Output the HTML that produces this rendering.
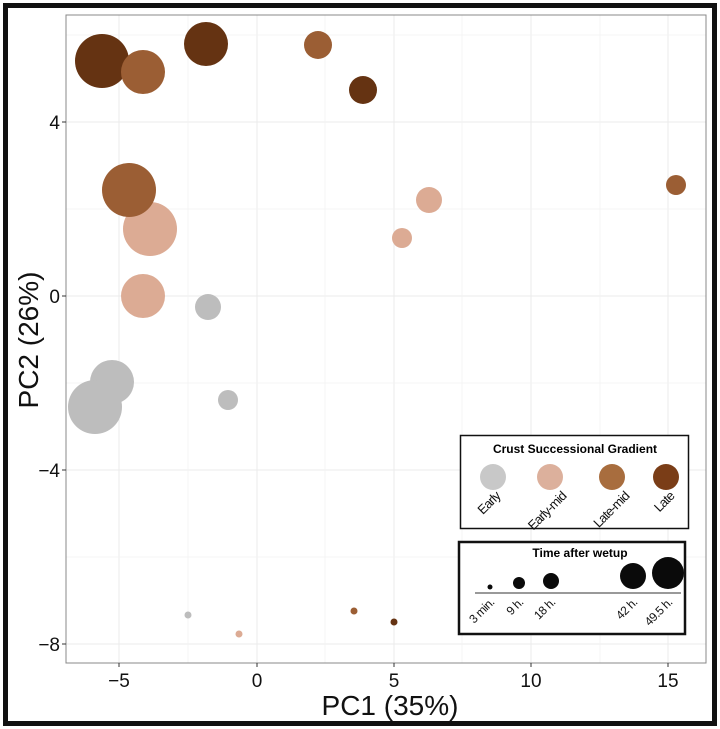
<!DOCTYPE html>
<html><head><meta charset="utf-8"><style>body{margin:0;background:#fff}svg{display:block}</style></head><body>
<svg width="720" height="729" xmlns="http://www.w3.org/2000/svg" font-family="Liberation Sans, sans-serif">
<rect x="0" y="0" width="720" height="729" fill="#fff"/>
<rect x="5.5" y="5.5" width="709" height="718" fill="none" stroke="#111" stroke-width="5"/>
<g stroke="#ebebeb" stroke-width="1">
<line x1="119" y1="15" x2="119" y2="663"/><line x1="257" y1="15" x2="257" y2="663"/><line x1="394" y1="15" x2="394" y2="663"/><line x1="531" y1="15" x2="531" y2="663"/><line x1="668" y1="15" x2="668" y2="663"/>
<line x1="66" y1="122" x2="706" y2="122"/><line x1="66" y1="296" x2="706" y2="296"/><line x1="66" y1="470" x2="706" y2="470"/><line x1="66" y1="644" x2="706" y2="644"/>
</g>
<g stroke="#f4f4f4" stroke-width="1">
<line x1="188" y1="15" x2="188" y2="663"/><line x1="325" y1="15" x2="325" y2="663"/><line x1="462" y1="15" x2="462" y2="663"/><line x1="600" y1="15" x2="600" y2="663"/>
<line x1="66" y1="35" x2="706" y2="35"/><line x1="66" y1="209" x2="706" y2="209"/><line x1="66" y1="383" x2="706" y2="383"/><line x1="66" y1="557" x2="706" y2="557"/>
</g>
<rect x="66" y="15" width="640" height="648" fill="none" stroke="#888" stroke-width="1"/>
<g>
<circle cx="102" cy="61" r="27" fill="#653312"/>
<circle cx="143" cy="72" r="22" fill="#9b5e34"/>
<circle cx="206" cy="44" r="22" fill="#653312"/>
<circle cx="318" cy="45" r="14" fill="#9b5e34"/>
<circle cx="363" cy="90" r="14" fill="#653312"/>
<circle cx="676" cy="185" r="10" fill="#9b5e34"/>
<circle cx="150" cy="229" r="27" fill="#dcab94"/>
<circle cx="129" cy="190" r="27" fill="#9b5e34"/>
<circle cx="429" cy="200" r="13" fill="#dcab94"/>
<circle cx="402" cy="238" r="10" fill="#dcab94"/>
<circle cx="143" cy="296" r="22" fill="#dcab94"/>
<circle cx="208" cy="307" r="13" fill="#bdbdbd"/>
<circle cx="112" cy="382" r="22" fill="#bdbdbd"/>
<circle cx="95" cy="407" r="27" fill="#bdbdbd"/>
<circle cx="228" cy="400" r="10" fill="#bdbdbd"/>
<circle cx="188" cy="615" r="3.5" fill="#bdbdbd"/>
<circle cx="239" cy="634" r="3.5" fill="#dcab94"/>
<circle cx="354" cy="611" r="3.5" fill="#9b5e34"/>
<circle cx="394" cy="622" r="3.5" fill="#653312"/>
</g>
<g stroke="#333" stroke-width="1">
<line x1="119" y1="663" x2="119" y2="667"/><line x1="257" y1="663" x2="257" y2="667"/><line x1="394" y1="663" x2="394" y2="667"/><line x1="531" y1="663" x2="531" y2="667"/><line x1="668" y1="663" x2="668" y2="667"/>
<line x1="62" y1="122" x2="66" y2="122"/><line x1="62" y1="296" x2="66" y2="296"/><line x1="62" y1="470" x2="66" y2="470"/><line x1="62" y1="644" x2="66" y2="644"/>
</g>
<g font-size="19" fill="#111" text-anchor="middle">
<text x="119" y="687">−5</text><text x="257" y="687">0</text><text x="394" y="687">5</text><text x="531" y="687">10</text><text x="668" y="687">15</text>
</g>
<g font-size="19" fill="#111" text-anchor="end">
<text x="60" y="129">4</text><text x="60" y="303">0</text><text x="60" y="477">−4</text><text x="60" y="651">−8</text>
</g>
<text x="390" y="715" font-size="28" text-anchor="middle" fill="#111">PC1 (35%)</text>
<text transform="translate(38,340) rotate(-90)" font-size="28" text-anchor="middle" fill="#111">PC2 (26%)</text>
<rect x="460.5" y="435.5" width="228" height="93" fill="#fff" stroke="#111" stroke-width="1.5"/>
<text x="575" y="453" font-size="12" font-weight="bold" text-anchor="middle">Crust Successional Gradient</text>
<circle cx="493" cy="477" r="13" fill="#c8c8c8"/>
<circle cx="550" cy="477" r="13" fill="#dcb09c"/>
<circle cx="612" cy="477" r="13" fill="#a86d3e"/>
<circle cx="666" cy="477" r="13" fill="#7a3d17"/>
<g font-size="13" fill="#111" text-anchor="end" letter-spacing="-0.8">
<text transform="translate(501,497) rotate(-45)">Early</text>
<text transform="translate(567,497) rotate(-45)">Early-mid</text>
<text transform="translate(630,497) rotate(-45)">Late-mid</text>
<text transform="translate(675,497) rotate(-45)">Late</text>
</g>
<rect x="459" y="542" width="226" height="92" fill="#fff" stroke="#111" stroke-width="2.5"/>
<text x="580" y="557" font-size="12" font-weight="bold" text-anchor="middle">Time after wetup</text>
<line x1="475" y1="593" x2="681" y2="593" stroke="#333" stroke-width="1"/>
<circle cx="490" cy="587" r="2.5" fill="#0a0a0a"/>
<circle cx="519" cy="583" r="6" fill="#0a0a0a"/>
<circle cx="551" cy="581" r="8" fill="#0a0a0a"/>
<circle cx="633" cy="576" r="13" fill="#0a0a0a"/>
<circle cx="668" cy="573" r="16" fill="#0a0a0a"/>
<g font-size="12" fill="#111" text-anchor="end" letter-spacing="-0.5">
<text transform="translate(495,603) rotate(-45)">3 min.</text>
<text transform="translate(524,603) rotate(-45)">9 h.</text>
<text transform="translate(556,603) rotate(-45)">18 h.</text>
<text transform="translate(638,603) rotate(-45)">42 h.</text>
<text transform="translate(673,603) rotate(-45)">49.5 h.</text>
</g>
</svg>
</body></html>
